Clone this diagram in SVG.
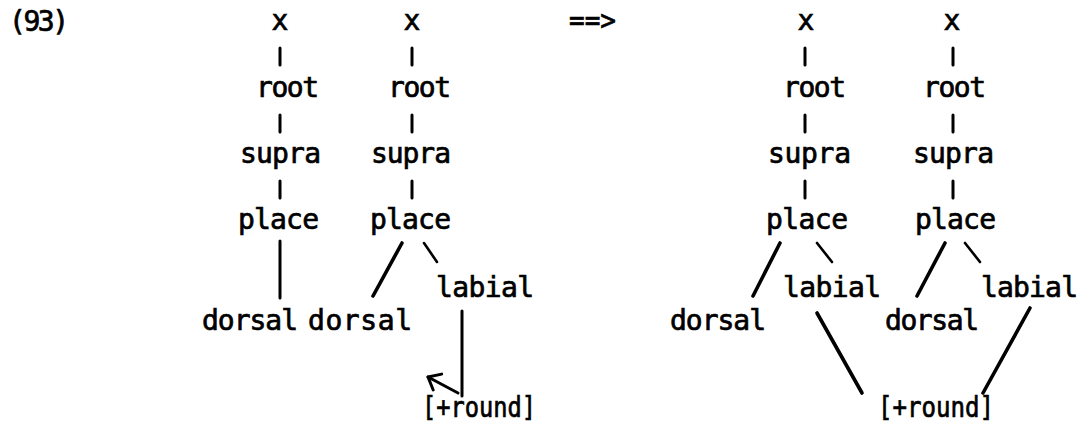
<svg xmlns="http://www.w3.org/2000/svg" width="1080" height="434" viewBox="0 0 1080 434">
<style>
text{font-family:"DejaVu Sans Mono","Liberation Mono",monospace;font-size:28px;font-weight:normal;fill:#000;stroke:#000;stroke-width:0.7}
.c{text-anchor:middle}
.e{stroke:#000;stroke-width:3;stroke-linecap:round;fill:none}
.d{stroke:#000;stroke-width:3.6;stroke-linecap:round;fill:none}
.t{stroke:#000;stroke-width:2.6;stroke-linecap:round;fill:none}
</style>
<defs>
<marker id="ah" markerUnits="userSpaceOnUse" markerWidth="24" markerHeight="24" viewBox="-14 -12 16 24" refX="0" refY="0" orient="auto">
<path d="M-10.7,-9 L0,0 L-10.7,9" fill="none" stroke="#000" stroke-width="3" stroke-linecap="round" stroke-linejoin="round"/>
</marker>
</defs>
<rect width="1080" height="434" fill="#fff"/>
<g id="label"><text x="9" y="31" textLength="60" lengthAdjust="spacing">(93)</text></g>
<g id="arrow-label"><text x="569" y="30" textLength="47" lengthAdjust="spacingAndGlyphs">==&gt;</text></g>

<g id="xA"><text class="c" x="280" y="30">x</text></g>
<g id="rootA"><text x="256" y="97" textLength="63" lengthAdjust="spacing">root</text></g>
<g id="supraA"><text x="240" y="163" textLength="81" lengthAdjust="spacing">supra</text></g>
<g id="placeA"><text x="238" y="229" textLength="81" lengthAdjust="spacing">place</text></g>
<g id="dorsalA"><text x="202" y="330" textLength="96" lengthAdjust="spacing">dorsal</text></g>

<g id="xB"><text class="c" x="412" y="30">x</text></g>
<g id="rootB"><text x="388" y="97" textLength="63" lengthAdjust="spacing">root</text></g>
<g id="supraB"><text x="371" y="163" textLength="80" lengthAdjust="spacing">supra</text></g>
<g id="placeB"><text x="370" y="229" textLength="81" lengthAdjust="spacing">place</text></g>
<g id="dorsalB"><text x="308" y="330" textLength="104" lengthAdjust="spacing">dorsal</text></g>
<g id="labialB"><text x="436" y="297" textLength="98" lengthAdjust="spacing">labial</text></g>
<g id="roundB"><text x="422" y="417" textLength="114" lengthAdjust="spacingAndGlyphs">[+round]</text></g>

<g id="xC"><text class="c" x="806" y="30">x</text></g>
<g id="rootC"><text x="783" y="97" textLength="63" lengthAdjust="spacing">root</text></g>
<g id="supraC"><text x="768" y="163" textLength="83" lengthAdjust="spacing">supra</text></g>
<g id="placeC"><text x="766" y="229" textLength="82" lengthAdjust="spacing">place</text></g>
<g id="dorsalC"><text x="670" y="330" textLength="96" lengthAdjust="spacing">dorsal</text></g>
<g id="labialC"><text x="783" y="297" textLength="98" lengthAdjust="spacing">labial</text></g>
<g id="roundC"><text x="878" y="417" textLength="116" lengthAdjust="spacingAndGlyphs">[+round]</text></g>

<g id="xD"><text class="c" x="952" y="30">x</text></g>
<g id="rootD"><text x="923" y="97" textLength="63" lengthAdjust="spacing">root</text></g>
<g id="supraD"><text x="913" y="163" textLength="81" lengthAdjust="spacing">supra</text></g>
<g id="placeD"><text x="915" y="229" textLength="81" lengthAdjust="spacing">place</text></g>
<g id="dorsalD"><text x="885" y="330" textLength="94" lengthAdjust="spacing">dorsal</text></g>
<g id="labialD"><text x="981" y="297" textLength="97" lengthAdjust="spacing">labial</text></g>

<g id="connectors">
<line class="e" x1="280" y1="48" x2="280" y2="65"/>
<line class="e" x1="280" y1="115" x2="280" y2="132"/>
<line class="e" x1="280" y1="181" x2="280" y2="198"/>
<line class="e" x1="280" y1="241" x2="280" y2="298"/>

<line class="e" x1="412" y1="48" x2="412" y2="65"/>
<line class="e" x1="412" y1="115" x2="412" y2="132"/>
<line class="e" x1="412" y1="181" x2="412" y2="198"/>
<line class="d" x1="402" y1="243" x2="373" y2="296"/>
<line class="t" x1="424" y1="243" x2="437" y2="262"/>
<line class="e" x1="462" y1="311" x2="462" y2="396"/>
<line class="e" x1="458" y1="393" x2="428" y2="377" marker-end="url(#ah)"/>

<line class="e" x1="805" y1="48" x2="805" y2="65"/>
<line class="e" x1="805" y1="115" x2="805" y2="132"/>
<line class="e" x1="805" y1="181" x2="805" y2="198"/>
<line class="d" x1="780" y1="243" x2="753" y2="296"/>
<line class="t" x1="817" y1="243" x2="832" y2="262"/>
<line class="d" x1="817" y1="313" x2="862" y2="393"/>

<line class="e" x1="953" y1="48" x2="953" y2="65"/>
<line class="e" x1="953" y1="115" x2="953" y2="132"/>
<line class="e" x1="953" y1="181" x2="953" y2="198"/>
<line class="d" x1="945" y1="243" x2="917" y2="296"/>
<line class="t" x1="965" y1="243" x2="980" y2="262"/>
<line class="d" x1="1030" y1="308" x2="983" y2="393"/>
</g>
</svg>
